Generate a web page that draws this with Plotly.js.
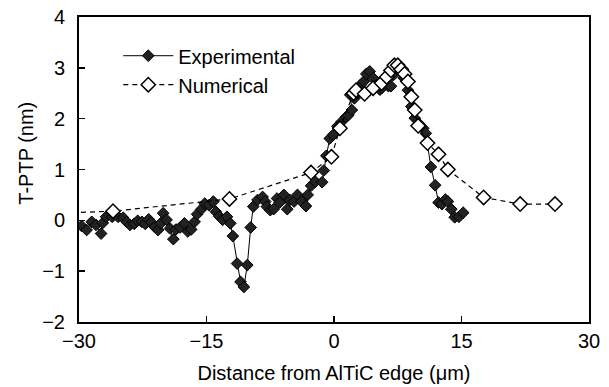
<!DOCTYPE html>
<html>
<head>
<meta charset="utf-8">
<script src="https://cdn.plot.ly/plotly-3.0.1.min.js"></script>
<style>html,body{margin:0;padding:0;background:#fff;}#chart{width:609px;height:387px;}</style>
</head>
<body>
<div id="chart"></div>
<script>
// Experimental T-PTP (nm) vs distance from AlTiC edge (um)
const expX = [-29.7,-29.1,-28.5,-28.0,-27.4,-27.2,-26.8,-26.1,-25.4,-24.8,-24.4,-24.0,-23.5,-23.1,-22.6,-22.2,-21.8,-21.5,-21.1,-20.7,-20.4,-20.1,-19.7,-19.3,-18.9,-18.6,-18.1,-17.6,-17.2,-16.8,-16.4,-16.1,-15.6,-15.2,-14.7,-14.2,-13.9,-13.5,-13.1,-12.6,-12.2,-11.9,-11.4,-11.0,-10.6,-10.2,-9.8,-9.5,-9.0,-8.4,-8.1,-7.9,-7.5,-7.1,-6.7,-6.4,-5.9,-5.5,-5.2,-4.7,-4.3,-3.8,-3.3,-3.1,-2.7,-2.2,-1.4,-1.2,-0.9,-0.5,-0.1,0.4,0.9,1.4,1.7,2.1,1.9,2.4,2.7,3.1,3.5,3.8,4.2,4.6,5.0,5.4,5.6,6.0,6.4,6.7,7.0,7.4,7.8,8.2,8.7,9.1,9.5,10.0,10.5,10.8,11.4,11.9,12.3,12.7,13.1,13.4,13.8,14.2,14.7,15.2];
const expY = [-0.11,-0.19,-0.03,-0.09,-0.26,-0.05,0.07,0.07,0.07,0.05,-0.03,-0.09,-0.07,-0.01,-0.03,-0.07,0.02,-0.04,-0.13,-0.19,-0.06,0.14,0.01,-0.16,-0.37,-0.18,-0.14,-0.06,-0.22,-0.18,-0.03,0.12,0.22,0.33,0.30,0.37,0.17,0.08,0.01,0.07,-0.06,-0.31,-0.85,-1.21,-1.31,-0.88,-0.14,0.27,0.40,0.46,0.37,0.27,0.20,0.22,0.43,0.35,0.50,0.22,0.40,0.37,0.50,0.37,0.28,0.50,0.68,0.76,0.75,0.98,1.27,1.61,1.68,1.85,1.94,2.03,2.07,2.17,2.47,2.40,2.50,2.66,2.73,2.88,2.93,2.80,2.66,2.57,2.60,2.71,2.64,2.64,2.86,2.98,2.94,2.80,2.56,2.24,2.01,1.90,1.81,1.71,1.05,0.69,0.35,0.32,0.41,0.37,0.22,0.06,0.07,0.15];
// Numerical T-PTP (nm)
const numX = [-34.0,-26.0,-12.3,-2.7,-0.3,0.7,2.3,2.6,3.6,4.6,5.6,6.2,6.7,7.1,7.5,7.9,8.3,8.7,9.1,9.5,9.9,11.0,12.3,13.4,17.6,21.9,26.0];
const numY = [0.13,0.18,0.42,0.94,1.25,1.81,2.50,2.56,2.49,2.60,2.70,2.82,2.95,3.05,3.05,2.97,2.88,2.73,2.43,2.17,1.86,1.52,1.30,1.00,0.45,0.32,0.32];
const xTicks = [-30,-15,0,15,30];
const yTicks = [-2,-1,0,1,2,3,4];
const seriesNames = ["Experimental","Numerical"];

const FONT = "Liberation Sans, Arial, sans-serif";

const traces = [
  {x: expX, y: expY, name: seriesNames[0], type: "scatter", mode: "lines+markers",
   line: {color: "#000", width: 1},
   marker: {symbol: "diamond", size: 9, color: "#222", line: {color: "#000", width: 1}}},
  {x: numX, y: numY, name: seriesNames[1], type: "scatter", mode: "lines+markers",
   line: {color: "#000", width: 1.2, dash: "5px,4px"},
   marker: {symbol: "diamond", size: 11, color: "#fff", line: {color: "#000", width: 1.5}}}
];

const layout = {
  width: 609, height: 387,
  margin: {l: 79, r: 20, t: 17, b: 65},
  paper_bgcolor: "#fff", plot_bgcolor: "#fff",
  font: {family: FONT, color: "#000", size: 20},
  showlegend: true,
  legend: {x: 0.077, y: 0.937, xanchor: "left", yanchor: "top", bgcolor: "rgba(0,0,0,0)",
           font: {family: FONT, size: 20, color: "#000"}, itemwidth: 50, tracegroupgap: 0},
  xaxis: {range: [-30, 30], tickvals: xTicks, ticks: "inside", ticklen: 6, tickwidth: 1.5, tickcolor: "#000",
          showline: true, linewidth: 2, linecolor: "#000", mirror: true, showgrid: false, zeroline: false,
          ticklabelstandoff: 0, tickfont: {family: FONT, size: 20},
          title: {text: "Distance from AlTiC edge (μm)", font: {family: FONT, size: 20}, standoff: 15}},
  yaxis: {range: [-2, 4], tickvals: yTicks, ticks: "inside", ticklen: 6, tickwidth: 1.5, tickcolor: "#000",
          showline: true, linewidth: 2, linecolor: "#000", mirror: true, showgrid: false, zeroline: false,
          ticklabelstandoff: 8, tickfont: {family: FONT, size: 20}},
  annotations: [{text: "T-PTP (nm)", textangle: -90, xref: "paper", yref: "paper", x: -0.104, y: 0.555,
                 xanchor: "center", yanchor: "middle", showarrow: false, font: {family: FONT, size: 20}}]
};

Plotly.newPlot("chart", traces, layout, {displayModeBar: false, staticPlot: true});
</script>
</body>
</html>
